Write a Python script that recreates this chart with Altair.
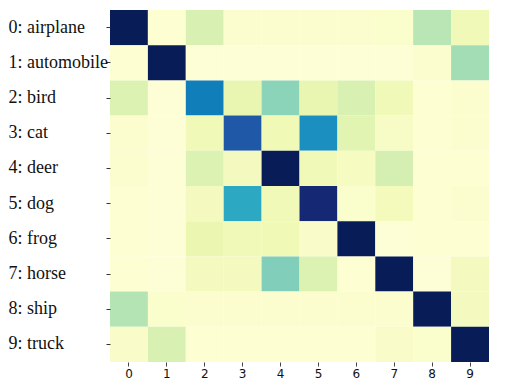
import altair as alt
import pandas as pd

true_labels = ["0: airplane", "1: automobile", "2: bird", "3: cat", "4: deer",
               "5: dog", "6: frog", "7: horse", "8: ship", "9: truck"]
pred_labels = ["0", "1", "2", "3", "4", "5", "6", "7", "8", "9"]

# relative intensities (rows = true class, cols = predicted)
row0 = [1.00, 0.02, 0.19, 0.03, 0.03, 0.03, 0.03, 0.04, 0.27, 0.10]
row1 = [0.02, 1.00, 0.01, 0.01, 0.01, 0.01, 0.01, 0.01, 0.03, 0.31]
row2 = [0.18, 0.01, 0.67, 0.14, 0.35, 0.14, 0.19, 0.10, 0.02, 0.03]
row3 = [0.03, 0.01, 0.10, 0.77, 0.11, 0.63, 0.16, 0.06, 0.02, 0.03]
row4 = [0.03, 0.01, 0.18, 0.08, 1.00, 0.10, 0.07, 0.20, 0.02, 0.02]
row5 = [0.02, 0.01, 0.08, 0.55, 0.10, 0.94, 0.04, 0.09, 0.02, 0.03]
row6 = [0.02, 0.01, 0.13, 0.10, 0.11, 0.05, 1.00, 0.01, 0.02, 0.02]
row7 = [0.02, 0.01, 0.08, 0.08, 0.37, 0.18, 0.02, 1.00, 0.01, 0.08]
row8 = [0.28, 0.04, 0.03, 0.03, 0.03, 0.03, 0.03, 0.03, 1.00, 0.08]
row9 = [0.05, 0.19, 0.02, 0.02, 0.02, 0.02, 0.02, 0.05, 0.04, 1.00]
rows = [row0, row1, row2, row3, row4, row5, row6, row7, row8, row9]

ylgnbu = ["#ffffd9", "#edf8b1", "#c7e9b4", "#7fcdbb", "#41b6c4",
          "#1d91c0", "#225ea8", "#253494", "#081d58"]
stops = [i / 8 for i in range(9)]

records = []
for i, r in enumerate(rows):
    for j, v in enumerate(r):
        records.append({"true": true_labels[i], "pred": pred_labels[j], "value": v})
df = pd.DataFrame(records)

chart = alt.Chart(df).mark_rect().encode(
    x=alt.X("pred:N", sort=pred_labels, title=None,
            scale=alt.Scale(paddingInner=0, paddingOuter=0),
            axis=alt.Axis(labelAngle=0, domain=False, tickSize=4, tickColor="#444",
                          labelFont="DejaVu Sans", labelFontSize=12, labelColor="#111",
                          labelPadding=2, labelBaseline="top")),
    y=alt.Y("true:N", sort=true_labels, title=None,
            scale=alt.Scale(paddingInner=0, paddingOuter=0),
            axis=alt.Axis(domain=False, tickSize=4, tickColor="#333",
                          labelFont="Liberation Serif",
                          labelFontSize=18, labelColor="#111",
                          labelAlign="left", labelPadding=98, labelBaseline="middle")),
    color=alt.Color("value:Q", legend=None,
                    scale=alt.Scale(domain=stops, range=ylgnbu)),
).properties(
    width=379, height=352,
    padding={"left": 102, "top": 2, "right": 20, "bottom": 18},
    autosize=alt.AutoSizeParams(type="none"),
).configure_view(stroke=None)

chart.save("out.html", embed_options={"renderer": "svg", "actions": False})
